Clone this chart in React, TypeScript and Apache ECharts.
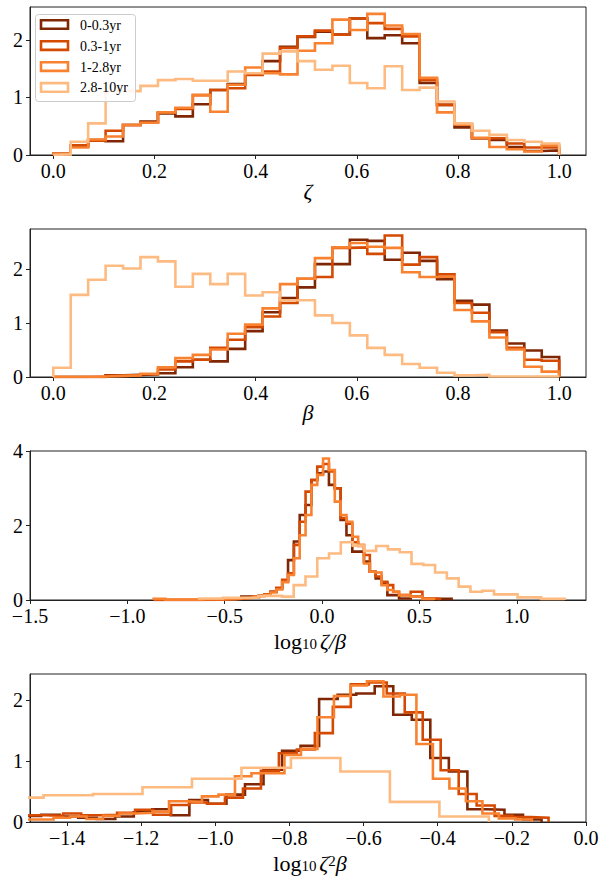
import React, { useEffect, useRef } from 'react';
import * as echarts from 'echarts';

const seriesNames = ['0-0.3yr', '0.3-1yr', '1-2.8yr', '2.8-10yr'];
const seriesColors = ['#7f2704', '#d54a02', '#f98230', '#fdbb81'];

// Panel 1: zeta (29 bins over 0..1)
const zetaBins = { start: 0, width: 1 / 29 };
const zetaA = [0.02, 0.15, 0.26, 0.24, 0.52, 0.58, 0.72, 0.67, 0.88, 1.13, 1.23, 1.42, 1.63, 1.88, 2.05, 2.14, 2.09, 2.37, 2.03, 2.08, 1.94, 1.25, 0.87, 0.48, 0.29, 0.26, 0.14, 0.07, 0.08];
const zetaB = [0.02, 0.17, 0.25, 0.42, 0.52, 0.56, 0.74, 0.80, 1.04, 1.13, 1.16, 1.39, 1.45, 1.86, 2.06, 2.16, 2.09, 2.37, 2.29, 2.19, 2.06, 1.30, 0.87, 0.53, 0.29, 0.29, 0.20, 0.13, 0.13];
const zetaC = [0.02, 0.13, 0.27, 0.32, 0.52, 0.56, 0.74, 0.82, 1.04, 0.75, 1.22, 1.52, 1.42, 1.40, 1.81, 1.94, 2.35, 2.17, 2.45, 2.25, 2.10, 1.34, 0.74, 0.53, 0.30, 0.14, 0.10, 0.06, 0.17];
const zetaD = [0.01, 0.23, 0.55, 1.11, 1.11, 1.20, 1.30, 1.32, 1.29, 1.29, 1.45, 1.42, 1.76, 1.80, 1.63, 1.48, 1.55, 1.25, 1.16, 1.54, 1.13, 1.17, 0.93, 0.55, 0.42, 0.35, 0.26, 0.23, 0.20];

// Panel 2: beta (29 bins over 0..1)
const betaBins = { start: 0, width: 1 / 29 };
const betaA = [0, 0, 0, 0.03, 0.04, 0.05, 0.07, 0.18, 0.32, 0.29, 0.52, 0.85, 1.20, 1.46, 1.66, 2.09, 2.09, 2.54, 2.52, 2.17, 2.30, 2.15, 1.81, 1.41, 1.34, 0.86, 0.62, 0.49, 0.37];
const betaB = [0, 0, 0, 0.02, 0.03, 0.05, 0.14, 0.29, 0.32, 0.54, 0.69, 0.92, 1.12, 1.37, 1.82, 1.85, 2.39, 2.40, 2.28, 2.62, 2.08, 2.22, 1.90, 1.37, 1.19, 0.83, 0.54, 0.32, 0.30];
const betaC = [0, 0, 0.01, 0.02, 0.03, 0.06, 0.18, 0.35, 0.41, 0.51, 0.80, 0.97, 1.27, 1.72, 1.82, 2.20, 2.40, 2.48, 2.41, 2.39, 1.94, 1.85, 1.86, 1.24, 1.03, 0.73, 0.51, 0.19, 0.10];
const betaD = [0.17, 1.52, 1.80, 2.06, 2.01, 2.22, 2.14, 1.67, 1.91, 1.72, 1.91, 1.51, 1.57, 1.42, 1.42, 1.14, 1.00, 0.77, 0.54, 0.41, 0.24, 0.17, 0.08, 0.03, 0.04, 0.01, 0.01, 0.01, 0.01];

// Panel 3: log10 zeta/beta (each series has its own bins)
const ratioBinsA = { start: -0.865, width: 0.03 };
const ratioA = [0, 0, 0, 0, 0, 0, 0, 0, 0.01, 0.01, 0.02, 0.02, 0.03, 0.03, 0.04, 0.09, 0.09, 0.07, 0.12, 0.15, 0.22, 0.31, 0.50, 1.07, 1.57, 2.28, 2.55, 3.22, 3.40, 3.45, 3.09, 3.00, 2.15, 1.74, 1.30, 1.30, 1.03, 0.76, 0.58, 0.45, 0.13, 0.13, 0.04, 0.04, 0.09, 0.09, 0.03, 0.03, 0.03, 0.03, 0.03];
const ratioBinsB = { start: -0.865, width: 0.03 };
const ratioB = [0, 0, 0, 0, 0, 0, 0, 0, 0, 0, 0.01, 0.01, 0.02, 0.03, 0.04, 0.05, 0.06, 0.09, 0.12, 0.15, 0.22, 0.33, 0.54, 0.72, 1.48, 2.10, 2.91, 3.22, 3.58, 3.65, 3.45, 3.00, 2.20, 2.05, 1.55, 1.45, 1.21, 0.76, 0.63, 0.49, 0.40, 0.22, 0.13, 0.13, 0.22, 0.22, 0.04, 0.04, 0.03];
const ratioBinsC = { start: -0.865, width: 0.03 };
const ratioC = [0.03, 0.03, 0.01, 0.01, 0.01, 0.01, 0.01, 0.01, 0.02, 0.02, 0.02, 0.02, 0.02, 0.02, 0.03, 0.05, 0.06, 0.08, 0.10, 0.13, 0.20, 0.28, 0.48, 0.67, 1.12, 1.74, 2.28, 3.09, 3.36, 3.80, 3.49, 2.64, 2.28, 2.10, 1.70, 1.48, 0.98, 0.76, 0.74, 0.40, 0.27, 0.22, 0.13, 0.13, 0.09, 0.09, 0.03, 0.03];
const ratioBinsD = { start: -0.63, width: 0.0605 };
const ratioD = [0.04, 0.04, 0.06, 0.06, 0.06, 0.11, 0.11, 0.09, 0.40, 0.63, 1.12, 1.25, 1.55, 1.46, 1.32, 1.45, 1.36, 1.28, 0.97, 0.94, 0.74, 0.58, 0.36, 0.22, 0.25, 0.15, 0.15, 0.07, 0.07, 0.03, 0.03];

// Panel 4: log10 zeta^2 beta
const prodBinsA = { start: -1.52, width: 0.05 };
const prodA = [0.10, 0.12, 0.09, 0.07, 0.05, 0.09, 0.16, 0.21, 0.11, 0.36, 0.30, 0.45, 0.62, 0.86, 1.17, 1.25, 2.02, 2.09, 2.11, 2.23, 1.76, 1.68, 1.05, 0.83, 0.21, 0.20, 0.12, 0.04];
const prodBinsB = { start: -1.556, width: 0.0485 };
const prodB = [0.11, 0.11, 0.10, 0.14, 0.11, 0.12, 0.15, 0.20, 0.12, 0.28, 0.32, 0.30, 0.40, 0.55, 0.84, 1.13, 1.19, 1.46, 1.89, 2.26, 2.29, 2.11, 1.80, 1.35, 0.85, 0.46, 0.27, 0.10, 0.08, 0.07];
const prodBinsC = { start: -1.5255, width: 0.0445 };
const prodC = [0.04, 0.04, 0.07, 0.09, 0.05, 0.10, 0.14, 0.15, 0.17, 0.34, 0.33, 0.42, 0.45, 0.75, 0.80, 0.80, 1.10, 1.20, 1.72, 2.07, 2.24, 2.31, 2.06, 2.09, 1.28, 0.71, 0.55, 0.34, 0.14, 0.06, 0.04];
const prodBinsD = { start: -1.597, width: 0.1335 };
const prodD = [0.40, 0.44, 0.46, 0.57, 0.71, 0.89, 1.05, 0.83, 0.33, 0.09];

// Tick labels
const xTicks1 = [0, 0.2, 0.4, 0.6, 0.8, 1.0];
const xTicks3 = [-1.5, -1.0, -0.5, 0.0, 0.5, 1.0];
const xTicks4 = [-1.4, -1.2, -1.0, -0.8, -0.6, -0.4, -0.2, 0.0];
const yTicks1 = [0, 1, 2];
const yTicks3 = [0, 2, 4];

const FONT = "'Liberation Serif', 'DejaVu Serif', serif";

function stepPoints(bins: { start: number; width: number }, values: number[]) {
  const pts: number[][] = [[bins.start, 0]];
  values.forEach((v, i) => {
    pts.push([bins.start + i * bins.width, v]);
    pts.push([bins.start + (i + 1) * bins.width, v]);
  });
  pts.push([bins.start + values.length * bins.width, 0]);
  return pts;
}

const fmtX = (v: number) => {
  const s = Math.abs(v) < 1e-9 ? '0.0' : Math.abs(v).toFixed(1);
  return v < -1e-9 ? '\u2212' + s : s;
};

export default function App() {
  const ref = useRef<HTMLDivElement>(null);
  useEffect(() => {
    if (!ref.current) return;
    const chart = echarts.init(ref.current, undefined, { renderer: 'svg' });

    const panels = [
      { top: 7, height: 148, xmin: -0.046, xmax: 1.053, ymax: 2.57, xt: xTicks1, yt: yTicks1,
        data: [[zetaBins, zetaA], [zetaBins, zetaB], [zetaBins, zetaC], [zetaBins, zetaD]] },
      { top: 229, height: 148, xmin: -0.046, xmax: 1.053, ymax: 2.74, xt: xTicks1, yt: yTicks1,
        data: [[betaBins, betaA], [betaBins, betaB], [betaBins, betaC], [betaBins, betaD]] },
      { top: 451, height: 149, xmin: -1.5, xmax: 1.355, ymax: 4.0, xt: xTicks3, yt: yTicks3,
        data: [[ratioBinsA, ratioA], [ratioBinsB, ratioB], [ratioBinsC, ratioC], [ratioBinsD, ratioD]] },
      { top: 674, height: 148, xmin: -1.5, xmax: 0.0, ymax: 2.43, xt: xTicks4, yt: yTicks1,
        data: [[prodBinsA, prodA], [prodBinsB, prodB], [prodBinsC, prodC], [prodBinsD, prodD]] },
    ];

    const grid = panels.map((p) => ({
      left: 30, top: p.top, width: 556, height: p.height,
      show: true, borderColor: '#222', borderWidth: 1, backgroundColor: 'transparent',
    }));

    const xAxis = panels.map((p, i) => ({
      type: 'value', gridIndex: i, min: p.xmin, max: p.xmax,
      axisLine: { show: true, onZero: false, lineStyle: { color: '#222', width: 1 } },
      splitLine: { show: false },
      axisTick: { show: true, length: 4, inside: false, customValues: p.xt, lineStyle: { color: '#222', width: 1 } },
      axisLabel: { show: true, customValues: p.xt, formatter: (v: number) => fmtX(v), margin: 6,
        color: '#000', fontSize: 20, lineHeight: 20, fontFamily: FONT },
    }));

    const yAxis = panels.map((p, i) => ({
      type: 'value', gridIndex: i, min: 0, max: p.ymax,
      axisLine: { show: true, onZero: false, lineStyle: { color: '#222', width: 1 } },
      splitLine: { show: false },
      axisTick: { show: true, length: 4, inside: false, customValues: p.yt, lineStyle: { color: '#222', width: 1 } },
      axisLabel: { show: true, customValues: p.yt, formatter: (v: number) => String(Math.round(v)), margin: 7,
        color: '#000', fontSize: 20, lineHeight: 18, fontFamily: FONT, showMaxLabel: true, showMinLabel: true },
    }));

    const series: any[] = [];
    panels.forEach((p, pi) => {
      p.data.forEach((d: any, si: number) => {
        series.push({
          type: 'line', name: seriesNames[si], xAxisIndex: pi, yAxisIndex: pi,
          data: stepPoints(d[0], d[1]), showSymbol: false, symbol: 'none', clip: true, silent: true,
          lineStyle: { color: seriesColors[si], width: 2.6, join: 'miter' }, z: 2 + si,
        });
      });
    });

    const legendItems: any[] = [
      { type: 'rect', shape: { x: 35.5, y: 14.5, width: 100, height: 87, r: 3 },
        style: { fill: 'rgba(255,255,255,0.85)', stroke: '#cccccc', lineWidth: 1 }, z: 100 },
    ];
    const legendY = [24.5, 45.6, 66.6, 87.4];
    seriesNames.forEach((n, i) => {
      legendItems.push({ type: 'rect', shape: { x: 41, y: legendY[i] - 4.3, width: 27, height: 8.6 },
        style: { fill: 'none', stroke: seriesColors[i], lineWidth: 2.6 }, z: 101 });
      legendItems.push({ type: 'text', x: 80, y: legendY[i] + 0.5,
        style: { text: n, fontSize: 14, fontFamily: FONT, fill: '#000', align: 'left', verticalAlign: 'middle' }, z: 101 });
    });

    const mainTok = { fontSize: 22, fontFamily: FONT, fontStyle: 'normal', lineHeight: 20, color: '#000' };
    const itTok = { fontSize: 22, fontFamily: FONT, fontStyle: 'italic', lineHeight: 20, color: '#000', padding: [0, 0, 0, 3] };
    const itTok2 = { fontSize: 22, fontFamily: FONT, fontStyle: 'italic', lineHeight: 20, color: '#000' };
    const subTok = { fontSize: 15, fontFamily: FONT, lineHeight: 12, verticalAlign: 'bottom', color: '#000' };
    const supTok = { fontSize: 15, fontFamily: FONT, lineHeight: 12, verticalAlign: 'top', color: '#000' };

    const names: any[] = [
      { type: 'text', x: 308, y: 191, style: { text: 'ζ', fontSize: 22, lineHeight: 18, fontStyle: 'italic', fontFamily: FONT, fill: '#000', align: 'center', verticalAlign: 'middle' } },
      { type: 'text', x: 308, y: 412, style: { text: 'β', fontSize: 22, lineHeight: 18, fontStyle: 'italic', fontFamily: FONT, fill: '#000', align: 'center', verticalAlign: 'middle' } },
      { type: 'text', x: 310, y: 641, style: { text: '{m|log}{s|10}{i|ζ}{j|/β}', rich: { m: mainTok, s: subTok, i: itTok, j: itTok2 }, align: 'center', verticalAlign: 'middle' } },
      { type: 'text', x: 310, y: 863, style: { text: '{m|log}{s|10}{i|ζ}{p|2}{j|β}', rich: { m: mainTok, s: subTok, i: itTok, p: supTok, j: itTok2 }, align: 'center', verticalAlign: 'middle' } },
    ];

    chart.setOption({
      animation: false,
      backgroundColor: '#ffffff',
      grid, xAxis, yAxis, series,
      graphic: [...legendItems, ...names],
    } as any);

    return () => chart.dispose();
  }, []);

  return <div ref={ref} style={{ position: 'absolute', left: 0, top: 0, width: 605, height: 884 }} />;
}
